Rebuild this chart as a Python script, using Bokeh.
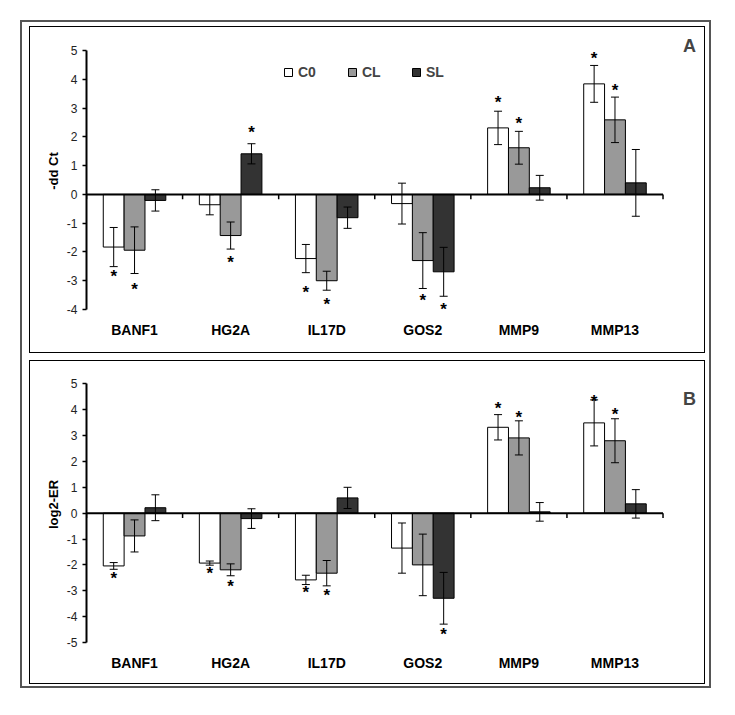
from bokeh.plotting import figure
from bokeh.models import (Range1d, ColumnDataSource, Legend, LegendItem, Label,
                          FixedTicker, Spacer)
from bokeh.layouts import column, row
from bokeh.embed import file_html
from bokeh.resources import INLINE
from bokeh.core.properties import value

genes = ["BANF1", "HG2A", "IL17D", "GOS2", "MMP9", "MMP13"]
series = ["C0", "CL", "SL"]
colors = ["#ffffff", "#999999", "#333333"]

# Panel A (-ddCt)
a_c0 = [-1.83, -0.36, -2.23, -0.32, 2.31, 3.84]
a_c0_err = [0.68, 0.35, 0.49, 0.71, 0.58, 0.64]
a_cl = [-1.94, -1.43, -3.00, -2.30, 1.62, 2.59]
a_cl_err = [0.81, 0.47, 0.33, 0.97, 0.57, 0.79]
a_sl = [-0.21, 1.41, -0.81, -2.69, 0.23, 0.40]
a_sl_err = [0.37, 0.35, 0.37, 0.85, 0.43, 1.16]
a_c0_star = [-2.73, None, -3.28, None, 3.32, 4.86]
a_cl_star = [-3.16, -2.23, -3.70, -3.56, 2.59, 3.75]
a_sl_star = [None, 2.30, None, -3.85, None, None]

# Panel B (log2-ER)
b_c0 = [-2.04, -1.93, -2.58, -1.35, 3.32, 3.49]
b_c0_err = [0.13, 0.08, 0.18, 0.97, 0.49, 0.89]
b_cl = [-0.88, -2.19, -2.32, -2.00, 2.91, 2.80]
b_cl_err = [0.62, 0.23, 0.49, 1.19, 0.66, 0.85]
b_sl = [0.21, -0.21, 0.59, -3.29, 0.05, 0.36]
b_sl_err = [0.50, 0.38, 0.41, 1.00, 0.36, 0.55]
b_c0_star = [-2.38, -2.19, -2.93, None, 4.19, 4.48]
b_cl_star = [None, -2.68, -3.03, None, 3.87, 3.97]
b_sl_star = [None, None, None, -4.55, None, None]

FONT = "Liberation Sans"
BAR_W = 0.217
OFFSETS = [-BAR_W, 0.0, BAR_W]
N = len(genes)
CENTERS = [i + 0.5 for i in range(N)]


def make_panel(vals, errs, stars, ylabel, ylo, yhi, ytop, letter, letter_y,
               tick_len, height, bottom_border, legend=False):
    p = figure(x_range=Range1d(0, 6.39), y_range=Range1d(ylo, ytop),
               width=676, height=height, output_backend="svg",
               toolbar_location=None, min_border_left=56, min_border_right=6,
               min_border_top=5, min_border_bottom=bottom_border)
    p.outline_line_color = None
    p.xgrid.visible = False
    p.ygrid.visible = False

    # y axis
    yticks = list(range(ylo, yhi + 1))
    p.yaxis.ticker = FixedTicker(ticks=yticks)
    p.yaxis.major_label_overrides = {t: str(t) for t in yticks}
    p.yaxis.bounds = (ylo, yhi)
    p.yaxis.axis_line_width = 2
    p.yaxis.axis_line_color = "black"
    p.yaxis.major_tick_out = 4
    p.yaxis.major_tick_in = 0
    p.yaxis.major_tick_line_width = 1.5
    p.yaxis.minor_tick_line_color = None
    p.yaxis.major_label_text_font = FONT
    p.yaxis.major_label_text_font_size = "12px"
    p.yaxis.major_label_text_color = "#222222"
    p.yaxis.major_label_standoff = 5
    p.yaxis.axis_label = ylabel
    p.yaxis.axis_label_text_font = FONT
    p.yaxis.axis_label_text_font_style = "bold"
    p.yaxis.axis_label_text_font_size = "13px"
    p.yaxis.axis_label_text_color = "black"
    p.yaxis.axis_label_standoff = 3

    # category labels (below)
    p.xaxis.ticker = FixedTicker(ticks=CENTERS)
    p.xaxis.major_label_overrides = {c: g for c, g in zip(CENTERS, genes)}
    p.xaxis.axis_line_color = None
    p.xaxis.major_tick_line_color = None
    p.xaxis.minor_tick_line_color = None
    p.xaxis.major_label_standoff = 6
    p.xaxis.major_label_text_font = FONT
    p.xaxis.major_label_text_font_style = "bold"
    p.xaxis.major_label_text_font_size = "14px"
    p.xaxis.major_label_text_color = "black"

    renderers = []
    for i, s in enumerate(series):
        v, e = vals[i], errs[i]
        xs = [c + OFFSETS[i] for c in CENTERS]
        src = ColumnDataSource(dict(
            x=xs, val=v,
            upper=[a + b for a, b in zip(v, e)],
            lower=[a - b for a, b in zip(v, e)]))
        r = p.vbar(x="x", top="val", bottom=0, width=BAR_W, source=src,
                   fill_color=colors[i], line_color="black", line_width=1)
        renderers.append(r)
        p.segment(x0="x", y0="lower", x1="x", y1="upper", source=src,
                  line_color="black", line_width=1)
        p.scatter(x="x", y="upper", marker="dash", size=8, source=src,
                  line_color="black", line_width=1)
        p.scatter(x="x", y="lower", marker="dash", size=8, source=src,
                  line_color="black", line_width=1)
        sx = [x for x, st in zip(xs, stars[i]) if st is not None]
        sy = [st for st in stars[i] if st is not None]
        ssrc = ColumnDataSource(dict(x=sx, y=sy))
        p.text(x="x", y="y", text=value("*"), source=ssrc,
               text_font=value(FONT), text_font_style="bold",
               text_font_size="17px", text_align="center",
               text_baseline="middle", y_offset=4, text_color="black")

    # zero line acting as the category axis
    p.segment(x0=[0], y0=[0], x1=[N], y1=[0], line_color="black",
              line_width=2)
    # category boundary ticks
    bounds_x = list(range(N + 1))
    p.segment(x0=bounds_x, y0=[0] * (N + 1), x1=bounds_x,
              y1=[-tick_len] * (N + 1), line_color="black", line_width=1.5)

    p.add_layout(Label(x=6.275, y=letter_y, text=letter, text_font=FONT,
                       text_font_style="bold", text_font_size="18px",
                       text_align="center", text_baseline="middle"))

    if legend:
        lg = Legend(items=[LegendItem(label=s, renderers=[r])
                           for s, r in zip(series, renderers)],
                    orientation="horizontal", location=(197, 229),
                    glyph_width=10, glyph_height=10, label_height=10,
                    label_standoff=5, spacing=29, padding=0, margin=0,
                    border_line_color=None, background_fill_alpha=0,
                    label_text_font=FONT, label_text_font_style="bold",
                    label_text_font_size="14px", label_text_baseline="middle")
        p.add_layout(lg)

    p.styles = {"border": "1px solid black"}
    return p


pA = make_panel([a_c0, a_cl, a_sl], [a_c0_err, a_cl_err, a_sl_err],
                [a_c0_star, a_cl_star, a_sl_star], "-dd Ct", -4, 5, 5.625,
                "A", 5.14, 0.17, 327, 45, legend=True)
pB = make_panel([b_c0, b_cl, b_sl], [b_c0_err, b_cl_err, b_sl_err],
                [b_c0_star, b_cl_star, b_sl_star], "log2-ER", -5, 5, 5.67,
                "B", 4.43, 0.19, 324, 43)

framed = column(pA, pB, spacing=7,
                styles={"border": "2px solid #555555",
                        "padding": "4px 4px 2px 7px"})
layout = column(Spacer(height=20), row(Spacer(width=20), framed, spacing=0),
                spacing=0)

open("out.html", "w").write(file_html(layout, INLINE))
